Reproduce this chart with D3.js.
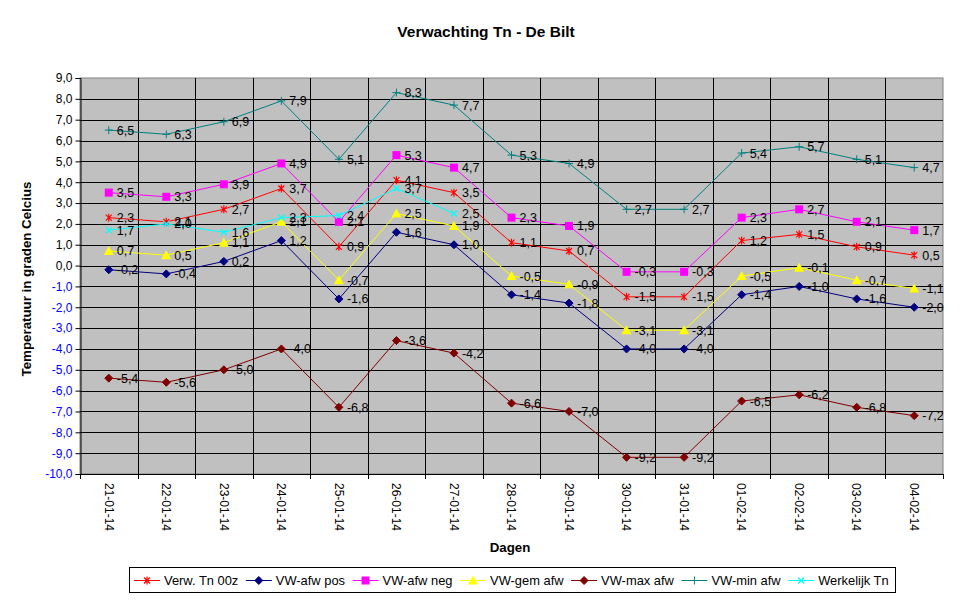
<!DOCTYPE html>
<html>
<head>
<meta charset="utf-8">
<script src="https://cdn.jsdelivr.net/npm/d3@7"></script>
<style>
  body { margin: 0; background: #fff; }
  text { font-family: Arial, "Liberation Sans", sans-serif; }
</style>
</head>
<body>
<script>
const width = 969;
const height = 602;

const dagen = ["21-01-14", "22-01-14", "23-01-14", "24-01-14", "25-01-14", "26-01-14", "27-01-14",
    "28-01-14", "29-01-14", "30-01-14", "31-01-14", "01-02-14", "02-02-14", "03-02-14", "04-02-14"];

const verwTn = [2.3, 2.1, 2.7, 3.7, 0.9, 4.1, 3.5, 1.1, 0.7, -1.5, -1.5, 1.2, 1.5, 0.9, 0.5];
const afwPos = [-0.2, -0.4, 0.2, 1.2, -1.6, 1.6, 1.0, -1.4, -1.8, -4.0, -4.0, -1.4, -1.0, -1.6, -2.0];
const afwNeg = [3.5, 3.3, 3.9, 4.9, 2.1, 5.3, 4.7, 2.3, 1.9, -0.3, -0.3, 2.3, 2.7, 2.1, 1.7];
const gemAfw = [0.7, 0.5, 1.1, 2.1, -0.7, 2.5, 1.9, -0.5, -0.9, -3.1, -3.1, -0.5, -0.1, -0.7, -1.1];
const maxAfw = [-5.4, -5.6, -5.0, -4.0, -6.8, -3.6, -4.2, -6.6, -7.0, -9.2, -9.2, -6.5, -6.2, -6.8, -7.2];
const minAfw = [6.5, 6.3, 6.9, 7.9, 5.1, 8.3, 7.7, 5.3, 4.9, 2.7, 2.7, 5.4, 5.7, 5.1, 4.7];
const werkelijkTn = [1.7, 2.0, 1.6, 2.3, 2.4, 3.7, 2.5, null, null, null, null, null, null, null, null];

const yTicks = d3.range(-10, 10, 1);

const series = [
    { name: "Verw. Tn 00z", values: verwTn, color: "#ff0000", marker: "star" },
    { name: "VW-afw pos", values: afwPos, color: "#000080", marker: "diamond" },
    { name: "VW-afw neg", values: afwNeg, color: "#ff00ff", marker: "square" },
    { name: "VW-gem afw", values: gemAfw, color: "#ffff00", marker: "triangle" },
    { name: "VW-max afw", values: maxAfw, color: "#800000", marker: "diamond" },
    { name: "VW-min afw", values: minAfw, color: "#008080", marker: "plus" },
    { name: "Werkelijk Tn", values: werkelijkTn, color: "#00ffff", marker: "cross" }
];

const plot = { left: 80, right: 943, top: 78, bottom: 474 };

const svg = d3.select("body")
    .append("svg")
    .attr("width", width)
    .attr("height", height);

const x = d3.scaleBand()
    .domain(dagen)
    .range([plot.left, plot.right]);

const y = d3.scaleLinear()
    .domain([-10, 9])
    .range([plot.bottom, plot.top]);

const fmt = v => d3.format(".1f")(v).replace(".", ",").replace("−", "-");

// plot background
svg.append("rect")
    .attr("x", plot.left)
    .attr("y", plot.top)
    .attr("width", plot.right - plot.left)
    .attr("height", plot.bottom - plot.top)
    .attr("fill", "#c0c0c0")
    .attr("stroke", "#808080")
    .attr("stroke-width", 1);

// horizontal grid
svg.append("g")
    .selectAll("line")
    .data(yTicks.filter(t => t > -10 && t < 9))
    .join("line")
    .attr("x1", plot.left)
    .attr("x2", plot.right)
    .attr("y1", d => Math.round(y(d)) + 0.5)
    .attr("y2", d => Math.round(y(d)) + 0.5)
    .attr("stroke", "#000")
    .attr("stroke-width", 1);

// vertical grid
svg.append("g")
    .selectAll("line")
    .data(dagen.slice(1))
    .join("line")
    .attr("x1", d => Math.round(x(d)) + 0.5)
    .attr("x2", d => Math.round(x(d)) + 0.5)
    .attr("y1", plot.top)
    .attr("y2", plot.bottom)
    .attr("stroke", "#000")
    .attr("stroke-width", 1);

// y axis
const yAxis = svg.append("g")
    .attr("transform", `translate(${plot.left + 0.5},0)`)
    .call(d3.axisLeft(y).tickValues(yTicks).tickSize(5).tickPadding(3).tickFormat(fmt));
yAxis.select(".domain").attr("stroke", "#000");
yAxis.selectAll(".tick line").attr("stroke", "#000");
yAxis.selectAll(".tick text")
    .attr("font-size", 12)
    .attr("font-family", "Arial, 'Liberation Sans', sans-serif")
    .attr("fill", d => d < 0 ? "#0000ff" : "#000");

// x axis
const xTickPos = dagen.map(d => x(d)).concat([plot.right]);
const xAxisG = svg.append("g");
xAxisG.append("line")
    .attr("x1", plot.left)
    .attr("x2", plot.right)
    .attr("y1", plot.bottom + 0.5)
    .attr("y2", plot.bottom + 0.5)
    .attr("stroke", "#000");
xAxisG.selectAll("line.tick")
    .data(xTickPos)
    .join("line")
    .attr("class", "tick")
    .attr("x1", d => Math.round(d) + 0.5)
    .attr("x2", d => Math.round(d) + 0.5)
    .attr("y1", plot.bottom)
    .attr("y2", plot.bottom + 5)
    .attr("stroke", "#000");
xAxisG.selectAll("text")
    .data(dagen)
    .join("text")
    .attr("transform", d => `translate(${x(d) + x.bandwidth() / 2},${plot.bottom + 9}) rotate(90)`)
    .attr("dy", "0.35em")
    .attr("font-size", 12)
    .attr("fill", "#000")
    .text(d => d);

// titles
svg.append("text")
    .attr("x", 486)
    .attr("y", 37)
    .attr("text-anchor", "middle")
    .attr("font-size", 15.5)
    .attr("font-weight", "bold")
    .text("Verwachting Tn - De Bilt");

svg.append("text")
    .attr("transform", `translate(31,${(plot.top + plot.bottom) / 2 + 3}) rotate(-90)`)
    .attr("text-anchor", "middle")
    .attr("font-size", 13.3)
    .attr("font-weight", "bold")
    .text("Temperatuur in graden Celcius");

svg.append("text")
    .attr("x", 510)
    .attr("y", 552)
    .attr("text-anchor", "middle")
    .attr("font-size", 13.3)
    .attr("font-weight", "bold")
    .text("Dagen");

// markers
const drawMarker = (g, type, color, cx, cy) => {
    if (type === "diamond") {
        g.append("path")
            .attr("d", `M${cx},${cy - 4}L${cx + 4},${cy}L${cx},${cy + 4}L${cx - 4},${cy}Z`)
            .attr("fill", color).attr("stroke", color);
    } else if (type === "square") {
        g.append("rect")
            .attr("x", cx - 4).attr("y", cy - 4)
            .attr("width", 8).attr("height", 8)
            .attr("fill", color);
    } else if (type === "triangle") {
        g.append("path")
            .attr("d", `M${cx},${cy - 5}L${cx + 5},${cy + 4}L${cx - 5},${cy + 4}Z`)
            .attr("fill", color);
    } else if (type === "plus") {
        g.append("path")
            .attr("d", `M${cx - 4},${cy}H${cx + 4}M${cx},${cy - 4}V${cy + 4}`)
            .attr("stroke", color).attr("stroke-width", 1).attr("fill", "none");
    } else if (type === "cross") {
        g.append("path")
            .attr("d", `M${cx - 3},${cy - 3}L${cx + 3},${cy + 3}M${cx - 3},${cy + 3}L${cx + 3},${cy - 3}`)
            .attr("stroke", color).attr("stroke-width", 1.3).attr("fill", "none");
    } else if (type === "star") {
        g.append("path")
            .attr("d", `M${cx - 3},${cy - 3}L${cx + 3},${cy + 3}M${cx - 3},${cy + 3}L${cx + 3},${cy - 3}M${cx},${cy - 4}V${cy + 4}`)
            .attr("stroke", color).attr("stroke-width", 1.2).attr("fill", "none");
    }
};

const cxOf = i => x(dagen[i]) + x.bandwidth() / 2;

const line = d3.line()
    .defined(d => d != null)
    .x((d, i) => cxOf(i))
    .y(d => y(d));

const seriesG = svg.append("g");
series.forEach(s => {
    const g = seriesG.append("g");
    g.append("path")
        .attr("d", line(s.values))
        .attr("fill", "none")
        .attr("stroke", s.color)
        .attr("stroke-width", 1);
    s.values.forEach((v, i) => {
        if (v != null) drawMarker(g, s.marker, s.color, cxOf(i), y(v));
    });
});

// data labels
const labelG = svg.append("g");
series.forEach(s => {
    s.values.forEach((v, i) => {
        if (v == null) return;
        labelG.append("text")
            .attr("x", cxOf(i) + 8)
            .attr("y", y(v))
            .attr("dy", "0.36em")
            .attr("font-size", 12.5)
            .attr("fill", "#000")
            .text(fmt(v));
    });
});

// legend
const legend = svg.append("g");
legend.append("rect")
    .attr("x", 129.5)
    .attr("y", 567.5)
    .attr("width", 766)
    .attr("height", 25)
    .attr("fill", "#fff")
    .attr("stroke", "#000");

let lx = 134;
series.forEach(s => {
    const ly = 580.5;
    legend.append("line")
        .attr("x1", lx).attr("x2", lx + 26)
        .attr("y1", ly).attr("y2", ly)
        .attr("stroke", s.color);
    drawMarker(legend, s.marker, s.color, lx + 13, ly);
    const t = legend.append("text")
        .attr("x", lx + 30)
        .attr("y", ly)
        .attr("dy", "0.36em")
        .attr("font-size", 12.9)
        .text(s.name);
    lx += 30 + t.node().getComputedTextLength() + 7.5;
});
</script>
</body>
</html>
